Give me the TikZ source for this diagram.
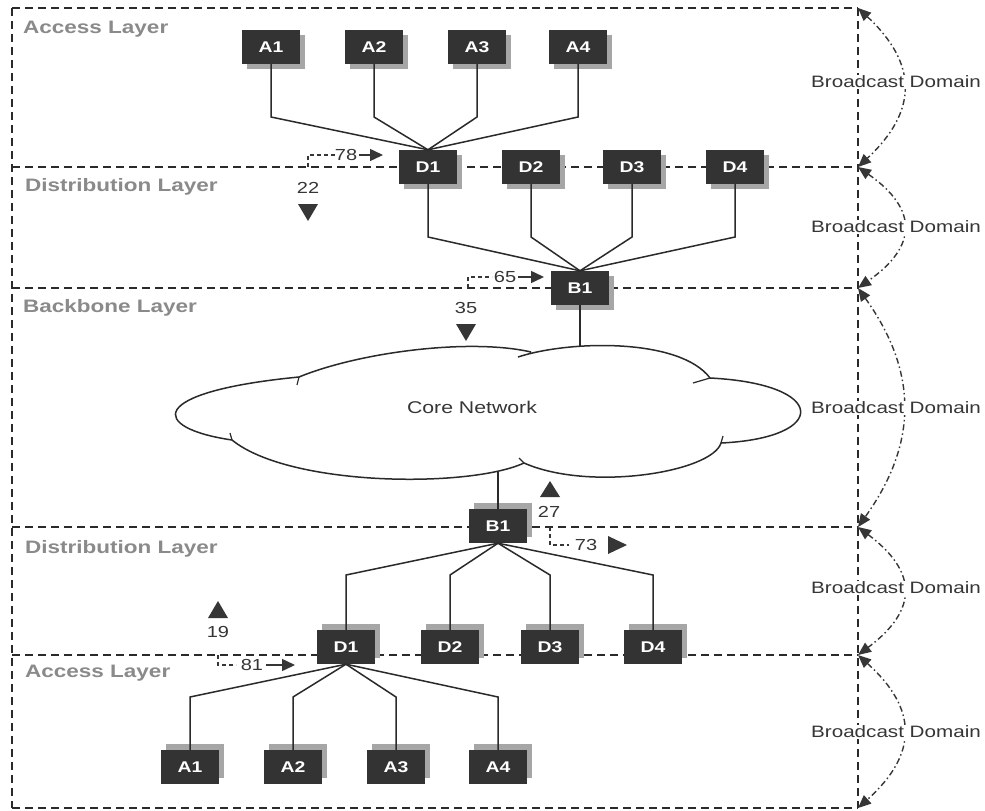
\documentclass[tikz,border=0pt]{standalone}
\usepackage{fontspec}
\setmainfont{Liberation Sans}
\usetikzlibrary{arrows.meta,shadows,calc}
\definecolor{boxc}{HTML}{333333}
\definecolor{shadc}{HTML}{A6A6A6}
\definecolor{layc}{HTML}{8A8A8A}
\definecolor{linec}{HTML}{2A2A2A}
\definecolor{numc}{HTML}{363636}
\newcommand{\wx}[1]{\scalebox{1.25}[1]{#1}}
\begin{document}
\begin{tikzpicture}[x=1pt,y=-1pt,
 box/.style={fill=boxc, text=white, minimum width=58pt, minimum height=34pt, inner sep=0pt, font=\fontsize{15.5}{15.5}\selectfont\bfseries},
 shtop/.style={drop shadow={shadow xshift=5pt, shadow yshift=-5pt, fill=shadc, opacity=1}},
 shbot/.style={drop shadow={shadow xshift=5pt, shadow yshift=6pt, fill=shadc, opacity=1}},
 layerline/.style={draw=linec, line width=1.7pt, dash pattern=on 8pt off 5pt},
 layerlab/.style={anchor=base west, text=layc, font=\fontsize{18}{18}\selectfont\bfseries, inner sep=0pt},
 conn/.style={draw=linec, line width=1.5pt},
 numlab/.style={text=numc, font=\fontsize{16}{16}\selectfont, inner sep=0pt},
 bdlab/.style={text=numc, font=\fontsize{16.5}{16.5}\selectfont, fill=white, inner sep=1pt},
 bdarc/.style={draw=numc, line width=1.4pt, dash pattern=on 6pt off 3pt on 1.5pt off 3pt, {Triangle[length=13pt,width=11pt]}-{Triangle[length=13pt,width=11pt]}},
 ind/.style={draw=numc, line width=1.3pt, dash pattern=on 4pt off 3pt},
 indarrow/.style={draw=numc, line width=1.5pt, -{Triangle[length=13pt,width=12pt]}},
]
\fill[white] (0,0) rectangle (985,811);
\useasboundingbox (0,0) rectangle (985,811);

% layer frame coordinates
\foreach \i/\y in {1/8,2/167,3/288,4/527,5/655,6/808}{
  \coordinate (L\i) at (12,\y);
  \coordinate (R\i) at (858,\y);
}
\foreach \i in {1,...,6}{ \draw[layerline] (L\i) -- (R\i); }
\draw[layerline] (L1) -- (L6);
\draw[layerline] (R1) -- (R6);

% broadcast domain arcs
\draw[bdarc] (R1) .. controls ($(R1)+(60,56)$) and ($(R2)+(60,-56)$) .. (R2);
\draw[bdarc] (R2) .. controls ($(R2)+(60,42)$) and ($(R3)+(60,-42)$) .. (R3);
\draw[bdarc] (R3) .. controls ($(R3)+(60,84)$) and ($(R4)+(60,-84)$) .. (R4);
\draw[bdarc] (R4) .. controls ($(R4)+(60,45)$) and ($(R5)+(60,-45)$) .. (R5);
\draw[bdarc] (R5) .. controls ($(R5)+(60,54)$) and ($(R6)+(60,-54)$) .. (R6);
\node[bdlab] (bd1) at (896,82)  {\wx{Broadcast Domain}};
\node[bdlab] (bd2) at (896,227) {\wx{Broadcast Domain}};
\node[bdlab] (bd3) at (896,408) {\wx{Broadcast Domain}};
\node[bdlab] (bd4) at (896,588) {\wx{Broadcast Domain}};
\node[bdlab] (bd5) at (896,732) {\wx{Broadcast Domain}};

% layer labels
\node[layerlab] (lab1) at (23,33)  {\wx{Access Layer}};
\node[layerlab] (lab2) at (25,191) {\wx{Distribution Layer}};
\node[layerlab] (lab3) at (23,312) {\wx{Backbone Layer}};
\node[layerlab] (lab4) at (25,553) {\wx{Distribution Layer}};
\node[layerlab] (lab5) at (25,677) {\wx{Access Layer}};

% top boxes
\node[box,shtop] (tA1) at (271,47) {\wx{A1}};
\node[box,shtop] (tA2) at (374,47) {\wx{A2}};
\node[box,shtop] (tA3) at (477,47) {\wx{A3}};
\node[box,shtop] (tA4) at (578,47) {\wx{A4}};
\node[box,shtop] (tD1) at (428,167) {\wx{D1}};
\node[box,shtop] (tD2) at (531,167) {\wx{D2}};
\node[box,shtop] (tD3) at (632,167) {\wx{D3}};
\node[box,shtop] (tD4) at (735,167) {\wx{D4}};
\node[box,shtop] (tB1) at (580,288) {\wx{B1}};

% bottom boxes
\node[box,shbot] (bB1) at (498,526) {\wx{B1}};
\node[box,shbot] (bD1) at (346,647) {\wx{D1}};
\node[box,shbot] (bD2) at (450,647) {\wx{D2}};
\node[box,shbot] (bD3) at (550,647) {\wx{D3}};
\node[box,shbot] (bD4) at (653,647) {\wx{D4}};
\node[box,shbot] (bA1) at (190,767) {\wx{A1}};
\node[box,shbot] (bA2) at (293,767) {\wx{A2}};
\node[box,shbot] (bA3) at (396,767) {\wx{A3}};
\node[box,shbot] (bA4) at (498,767) {\wx{A4}};

% bend levels
\coordinate (ya) at (0,117);
\coordinate (yd) at (0,237);
\coordinate (yd2) at (0,575);
\coordinate (ya2) at (0,697);

\foreach \n in {tA1,tA2,tA3,tA4}{ \draw[conn] (\n.south) -- (\n.south |- ya) -- (tD1.north); }
\foreach \n in {tD1,tD2,tD3,tD4}{ \draw[conn] (\n.south) -- (\n.south |- yd) -- (tB1.north); }
\foreach \n in {bD1,bD2,bD3,bD4}{ \draw[conn] (\n.north) -- (\n.north |- yd2) -- (bB1.south); }
\foreach \n in {bA1,bA2,bA3,bA4}{ \draw[conn] (\n.north) -- (\n.north |- ya2) -- (bD1.south); }

% cloud
\draw[conn] (232,440) .. controls (150,428) and (145,392) .. (299,377)
  .. controls (360,352) and (470,338) .. (531,352)
  (518,357) .. controls (570,340) and (680,338) .. (710,378)
  .. controls (829,384) and (829,438) .. (721,443)
  .. controls (712,472) and (590,492) .. (524,463)
  .. controls (470,488) and (290,487) .. (232,440);
% small cusp ticks
\draw[conn, line width=1.2pt] (299,377) -- (297,385);
\draw[conn, line width=1.2pt] (232,440) -- (230,433);
\draw[conn, line width=1.2pt] (710,378) -- (693,383);
\draw[conn, line width=1.2pt] (721,443) -- (723,436);
\draw[conn, line width=1.2pt] (524,463) -- (519,458);
\node[numlab, font=\fontsize{17}{17}\selectfont] (core) at (472,407) {\wx{Core Network}};
\coordinate (ctop) at (0,346.5);
\coordinate (cbot) at (498,471);
\draw[conn] (tB1.south) -- (tB1.south |- ctop);
\draw[conn] (cbot) -- (bB1.north);

% indicators
\draw[ind] (308,167) -- (308,155) -- (336,155);
\node[numlab] (n78) at (346,155) {\wx{78}};
\draw[indarrow] ($(n78.east)+(2,0)$) -- (383,155);
\node[numlab] (n22) at (308,188) {\wx{22}};
\fill[numc] (298,204) -- (318,204) -- (308,221) -- cycle;

\draw[ind] (468,288) -- (468,277) -- (492,277);
\node[numlab] (n65) at (505,277) {\wx{65}};
\draw[indarrow] ($(n65.east)+(2,0)$) -- (544,277);
\node[numlab] (n35) at (466,308) {\wx{35}};
\fill[numc] (456,324) -- (476,324) -- (466,341) -- cycle;

\fill[numc] (540,497) -- (560,497) -- (550,481) -- cycle;
\node[numlab] (n27) at (549,512) {\wx{27}};
\draw[ind] (550,527) -- (550,545) -- (569,545);
\node[numlab] (n73) at (586,545) {\wx{73}};
\fill[numc] (608,536) -- (608,554) -- (627,545) -- cycle;

\fill[numc] (208,618) -- (228,618) -- (218,601) -- cycle;
\node[numlab] (n19) at (218,632) {\wx{19}};
\draw[ind] (218,655) -- (218,665) -- (236,665);
\node[numlab] (n81) at (252,665) {\wx{81}};
\draw[indarrow] ($(n81.east)+(3,0)$) -- (295,665);
\end{tikzpicture}
\end{document}
